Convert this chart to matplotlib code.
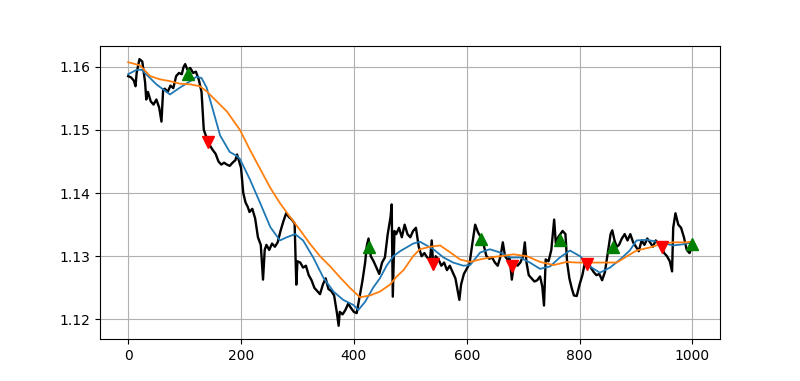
import matplotlib
matplotlib.use('Agg')
import matplotlib.pyplot as plt

# close prices (bar index, price)
price_x = [0, 5, 10, 13, 15, 20, 25, 30, 32, 35, 40, 45, 50, 55, 59, 62, 65, 70, 75, 80,
           85, 90, 95, 98, 101, 105, 110, 115, 120, 125, 130, 134, 140, 145, 150, 155, 160, 165, 170, 175,
           180, 185, 190, 193, 195, 200, 204, 208, 212, 215, 220, 225, 230, 235, 239, 242, 245, 250, 255, 260,
           265, 270, 275, 280, 285, 290, 295, 298, 300, 305, 310, 315, 320, 325, 330, 335, 340, 345, 350, 355,
           360, 365, 370, 373, 375, 380, 385, 390, 395, 400, 405, 410, 415, 420, 423, 426, 430, 435, 440, 445,
           450, 455, 460, 465, 467, 469, 472, 475, 480, 485, 490, 495, 500, 505, 510, 515, 520, 525, 530, 535,
           538, 541, 545, 550, 555, 560, 565, 570, 575, 580, 585, 587, 590, 595, 600, 605, 610, 615, 620, 625,
           630, 635, 640, 645, 650, 655, 660, 664, 668, 672, 676, 680, 684, 690, 695, 700, 703, 706, 710, 715,
           720, 725, 730, 734, 737, 740, 745, 750, 755, 758, 762, 766, 770, 775, 778, 782, 786, 790, 795, 800,
           805, 810, 815, 820, 825, 830, 835, 840, 845, 850, 855, 858, 862, 866, 870, 875, 880, 885, 890, 895,
           900, 905, 910, 915, 920, 925, 930, 935, 940, 945, 950, 955, 960, 964, 966, 970, 975, 980, 985, 990,
           995, 999]
price_y = [1.1585, 1.1583, 1.1578, 1.1569, 1.1590, 1.1612, 1.1608, 1.1575, 1.1548, 1.1560, 1.1545, 1.1540, 1.1548, 1.1535, 1.1513, 1.1564, 1.1565, 1.1560, 1.1570, 1.1566,
           1.1585, 1.1590, 1.1588, 1.1599, 1.1604, 1.1595, 1.1598, 1.1590, 1.1592, 1.1580, 1.1560, 1.1500, 1.1485, 1.1475, 1.1468, 1.1462, 1.1450, 1.1445, 1.1448, 1.1445,
           1.1443, 1.1448, 1.1452, 1.1461, 1.1455, 1.1440, 1.1400, 1.1385, 1.1378, 1.1370, 1.1375, 1.1360, 1.1330, 1.1318, 1.1263, 1.1310, 1.1318, 1.1310, 1.1320, 1.1315,
           1.1322, 1.1340, 1.1355, 1.1368, 1.1362, 1.1358, 1.1352, 1.1255, 1.1292, 1.1290, 1.1282, 1.1285, 1.1270, 1.1262, 1.1250, 1.1245, 1.1240, 1.1255, 1.1265, 1.1248,
           1.1245, 1.1238, 1.1210, 1.1190, 1.1212, 1.1208, 1.1215, 1.1225, 1.1218, 1.1212, 1.1210, 1.1235, 1.1260, 1.1290, 1.1317, 1.1328, 1.1300, 1.1292, 1.1282, 1.1272,
           1.1290, 1.1298, 1.1335, 1.1362, 1.1382, 1.1236, 1.1340, 1.1335, 1.1345, 1.1330, 1.1350, 1.1335, 1.1330, 1.1340, 1.1345, 1.1315, 1.1300, 1.1305, 1.1298, 1.1295,
           1.1325, 1.1280, 1.1300, 1.1295, 1.1285, 1.1290, 1.1278, 1.1285, 1.1275, 1.1265, 1.1240, 1.1231, 1.1255, 1.1272, 1.1280, 1.1288, 1.1320, 1.1350, 1.1338, 1.1330,
           1.1318, 1.1300, 1.1296, 1.1298, 1.1290, 1.1285, 1.1300, 1.1322, 1.1300, 1.1295, 1.1298, 1.1263, 1.1290, 1.1285, 1.1290, 1.1300, 1.1322, 1.1290, 1.1270, 1.1265,
           1.1260, 1.1262, 1.1268, 1.1252, 1.1222, 1.1295, 1.1292, 1.1310, 1.1358, 1.1320, 1.1330, 1.1335, 1.1340, 1.1335, 1.1290, 1.1265, 1.1250, 1.1238, 1.1237, 1.1255,
           1.1270, 1.1292, 1.1290, 1.1282, 1.1275, 1.1270, 1.1272, 1.1262, 1.1275, 1.1305, 1.1335, 1.1341, 1.1325, 1.1315, 1.1318, 1.1328, 1.1335, 1.1325, 1.1335, 1.1322,
           1.1315, 1.1308, 1.1325, 1.1318, 1.1328, 1.1322, 1.1315, 1.1325, 1.1320, 1.1315, 1.1305, 1.1300, 1.1292, 1.1276, 1.1345, 1.1368, 1.1350, 1.1345, 1.1330, 1.1310,
           1.1305, 1.1315]

# fast moving average (blue)
fast_x = [0, 15, 24, 50, 74, 92, 110, 121, 130, 139, 151, 163, 180, 192, 198, 216, 234, 252, 269, 281,
          296, 310, 328, 346, 364, 381, 399, 408, 420, 434, 446, 458, 470, 482, 505, 517, 529, 541, 559, 576,
          594, 606, 624, 641, 659, 677, 695, 712, 730, 748, 765, 783, 801, 818, 836, 854, 872, 889, 901, 919,
          943, 966, 984, 999]
fast_y = [1.1588, 1.1595, 1.1595, 1.1572, 1.1556, 1.1567, 1.1577, 1.1584, 1.1582, 1.1567, 1.1529, 1.1491, 1.1465, 1.1459, 1.1454, 1.1421, 1.1384, 1.1346, 1.1325, 1.1330,
          1.1335, 1.1325, 1.1298, 1.1266, 1.1244, 1.1231, 1.1223, 1.1215, 1.1228, 1.1250, 1.1265, 1.1285, 1.1300, 1.1308, 1.1320, 1.1323, 1.1317, 1.1311, 1.1298, 1.1290,
          1.1285, 1.1286, 1.1306, 1.1311, 1.1306, 1.1298, 1.1298, 1.1290, 1.1280, 1.1284, 1.1298, 1.1309, 1.1300, 1.1284, 1.1274, 1.1282, 1.1295, 1.1309, 1.1325, 1.1326,
          1.1322, 1.1317, 1.1319, 1.1322]

# slow moving average (orange)
slow_x = [0, 21, 39, 56, 74, 92, 110, 127, 139, 157, 175, 198, 216, 234, 252, 269, 287, 305, 322, 340,
          358, 376, 393, 411, 429, 446, 464, 476, 488, 505, 517, 535, 553, 571, 588, 606, 624, 641, 659, 683,
          707, 730, 754, 777, 795, 818, 842, 866, 884, 901, 925, 943, 966, 990, 999]
slow_y = [1.1607, 1.1602, 1.1585, 1.1580, 1.1577, 1.1573, 1.1572, 1.1569, 1.1561, 1.1545, 1.1529, 1.1500, 1.1468, 1.1438, 1.1408, 1.1384, 1.1362, 1.1341, 1.1320, 1.1300,
          1.1284, 1.1266, 1.1250, 1.1235, 1.1238, 1.1244, 1.1255, 1.1268, 1.1278, 1.1300, 1.1311, 1.1315, 1.1317, 1.1306, 1.1295, 1.1291, 1.1295, 1.1298, 1.1300, 1.1303,
          1.1300, 1.1291, 1.1286, 1.1291, 1.1290, 1.1290, 1.1290, 1.1290, 1.1300, 1.1309, 1.1314, 1.1319, 1.1322, 1.1322, 1.1323]

# signals
buy_x = [106, 427, 625, 765, 859, 999]
buy_y = [1.1588, 1.1314, 1.1327, 1.1325, 1.1314, 1.1319]
sell_x = [142, 540, 681, 813, 946]
sell_y = [1.1481, 1.1287, 1.1284, 1.1287, 1.1314]

fig, ax = plt.subplots(figsize=(8, 3.81), dpi=100)
ax.plot(price_x, price_y, color='black', linewidth=1.7)
ax.plot(fast_x, fast_y, linewidth=1.3)
ax.plot(slow_x, slow_y, linewidth=1.3)
ax.plot(buy_x, buy_y, '^', color='green', markersize=9, linestyle='none')
ax.plot(sell_x, sell_y, 'v', color='red', markersize=9, linestyle='none')
ax.grid(True)
plt.savefig('out.png')
